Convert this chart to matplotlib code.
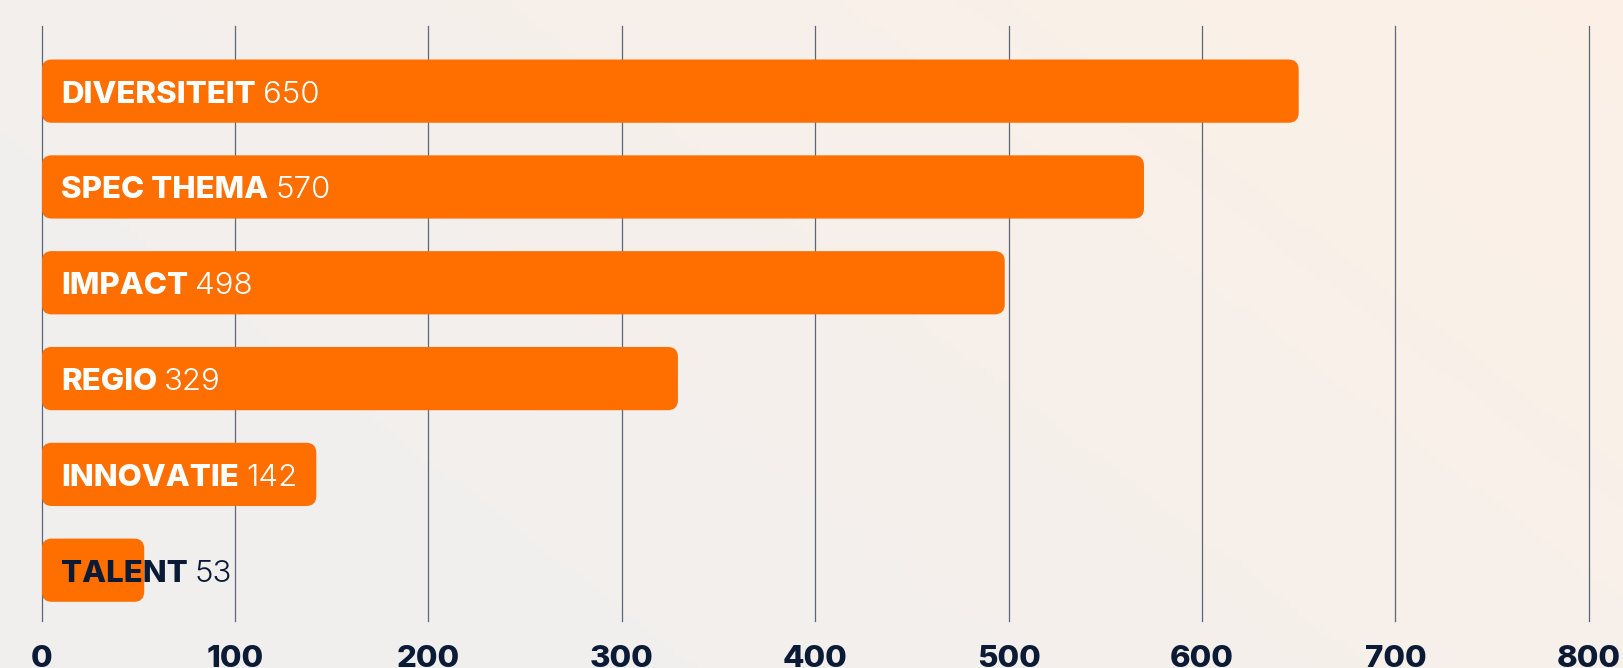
import numpy as np
import matplotlib
matplotlib.use('Agg')
import matplotlib.pyplot as plt
from matplotlib.patches import FancyBboxPatch

categories = ['DIVERSITEIT', 'SPEC THEMA', 'IMPACT', 'REGIO', 'INNOVATIE', 'TALENT']
values = [650, 570, 498, 329, 142, 53]
ticks = [0, 100, 200, 300, 400, 500, 600, 700, 800]

orange = '#ff6f00'
navy = '#0c1b35'

fig = plt.figure(figsize=[16.23, 6.68], dpi=100)

# soft background gradient (grey left -> peach top right)
bg = fig.add_axes([0, 0, 1, 1], zorder=-10)
gx, gy = np.meshgrid(np.linspace(0, 1, 200), np.linspace(0, 1, 100))
t = np.clip(0.75 * gx + 0.4 * gy - 0.2, 0, 1)
c0 = np.array([0.943, 0.940, 0.935])
c1 = np.array([0.993, 0.942, 0.902])
img = c0[None, None, :] * (1 - t[..., None]) + c1[None, None, :] * t[..., None]
bg.imshow(img, aspect='auto', origin='lower', extent=[0, 1, 0, 1])
bg.axis('off')

ax = fig.add_axes([0.0257, 0.0704, 0.9532, 0.8907])
ax.patch.set_alpha(0)
ax.set_xlim(0, 800)
ax.set_ylim(5.53, -0.68)

for x in ticks:
    ax.axvline(x, color='#5d6578', lw=0.9, zorder=0, clip_on=False)

bar_h = 0.66
for i, (cat, val) in enumerate(zip(categories, values)):
    patch = FancyBboxPatch((0, i - bar_h / 2), val, bar_h,
                           boxstyle='round,pad=0,rounding_size=5.2',
                           mutation_aspect=0.0202,
                           fc=orange, ec='none', zorder=2)
    ax.add_patch(patch)
    col = 'white' if val > 100 else navy
    lab = ax.annotate(cat, xy=(0, i), xytext=(14, -2.5), textcoords='offset points',
                      ha='left', va='center', fontsize=22.5, fontweight=800,
                      family='Inter', color=col, zorder=3)
    ax.annotate(str(val), xy=(1, 0.5), xycoords=lab, xytext=(5, 0),
                textcoords='offset points', ha='left', va='center',
                fontsize=22.5, fontweight=300, family='Inter', color=col, zorder=3)

ax.set_xticks(ticks)
ax.set_xticklabels([str(v) for v in ticks], fontsize=22.5, fontweight=800,
                   family='Inter', color=navy)
ax.tick_params(axis='x', length=0, pad=17)
ax.set_yticks([])
for s in ax.spines.values():
    s.set_visible(False)

fig.savefig('out.png', dpi=100)
